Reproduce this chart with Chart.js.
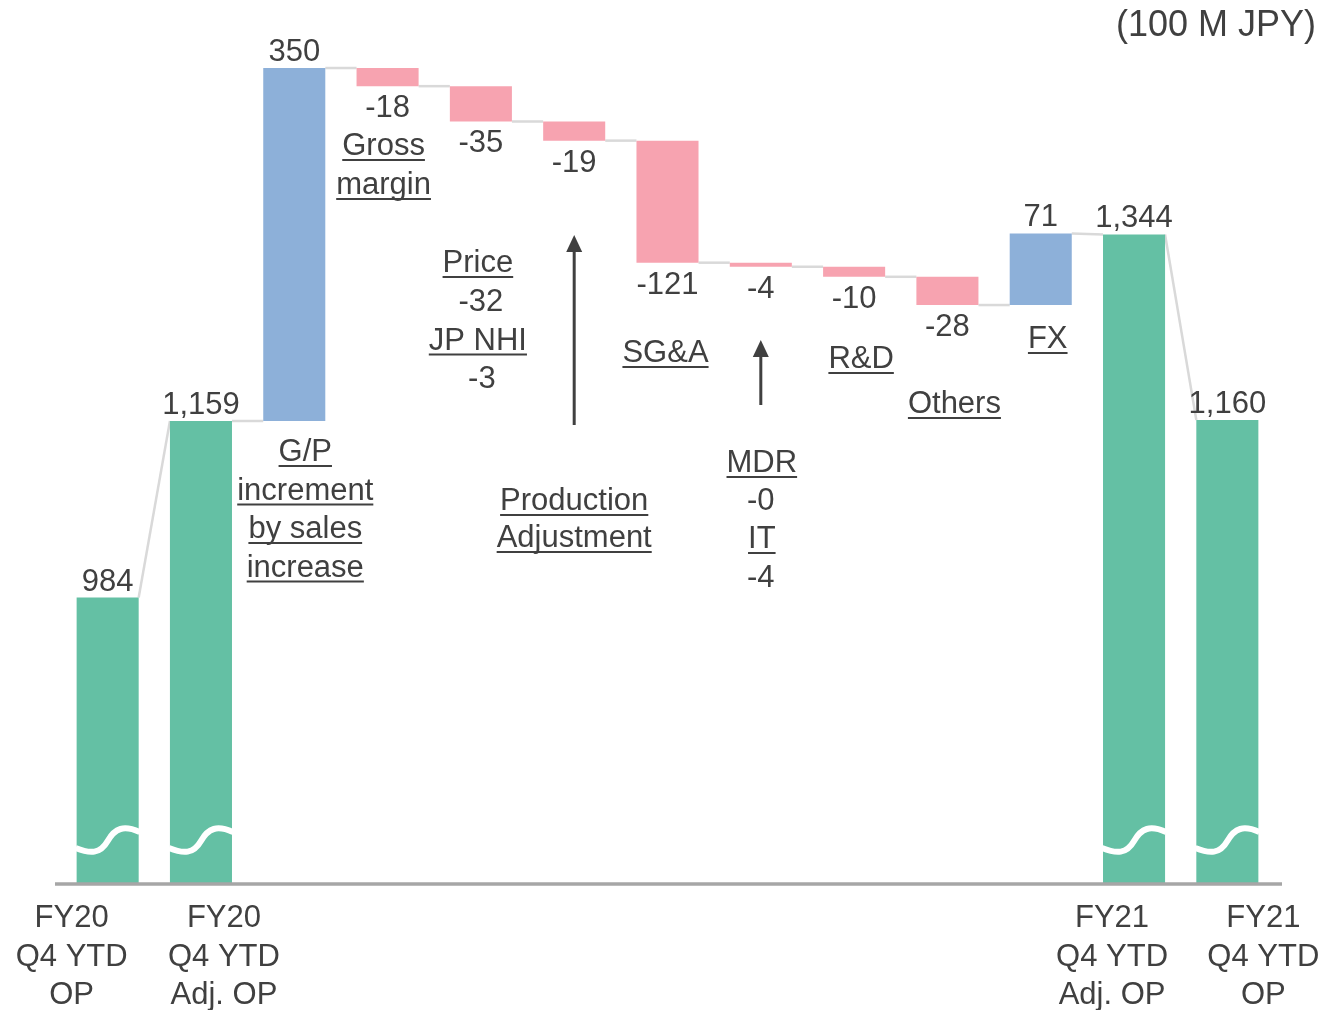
<!DOCTYPE html>
<html>
<head>
<meta charset="utf-8">
<script src="https://cdn.jsdelivr.net/npm/chart.js@4.4.1/dist/chart.umd.min.js"></script>
<style>
  html, body { margin: 0; padding: 0; background: #fff; }
  #wrap { width: 1325px; height: 1010px; }
</style>
</head>
<body>
<div id="wrap"><canvas id="bridge-chart"></canvas></div>
<script>
// Operating profit bridge, FY20 -> FY21 (100 M JPY)
const categories = [
  'FY20 Q4 YTD OP', 'FY20 Q4 YTD Adj. OP', 'G/P increment by sales increase',
  'Gross margin', 'Price / JP NHI', 'Production Adjustment', 'SG&A', 'MDR / IT',
  'R&D', 'Others', 'FX', 'FY21 Q4 YTD Adj. OP', 'FY21 Q4 YTD OP'
];
const amounts = [984, 1159, 350, -18, -35, -19, -121, -4, -10, -28, 71, 1344, 1160];
const isTotal = [true, true, false, false, false, false, false, false, false, false, false, true, true];
const valueLabels = ['984', '1,159', '350', '-18', '-35', '-19', '-121', '-4', '-10', '-28', '71', '1,344', '1,160'];
const footIndex = [0, 1, 11, 12];
const footLabels = [
  ['FY20', 'Q4 YTD', 'OP'],
  ['FY20', 'Q4 YTD', 'Adj. OP'],
  ['FY21', 'Q4 YTD', 'Adj. OP'],
  ['FY21', 'Q4 YTD', 'OP']
];
const axisMin = 700;   // axis is broken, bars start here
const axisMax = 1510;

const GREEN = '#64c0a4', BLUE = '#8db0d9', PINK = '#f7a3b0';
const TEXT = '#404040';
const FONT = '31px "Liberation Sans", Arial, sans-serif';

// floating bars [start, end]
const ranges = [];
const colors = [];
let running = 0;
amounts.forEach((v, i) => {
  if (isTotal[i]) {
    ranges.push([axisMin, v]);
    running = v;
    colors.push(GREEN);
  } else {
    ranges.push([running, running + v]);
    running += v;
    colors.push(v >= 0 ? BLUE : PINK);
  }
});

// explanatory notes next to the bars
const notes = [
  { t: 'G/P', i: 2, dx: 11, y: 461, u: true },
  { t: 'increment', i: 2, dx: 11, y: 499.5, u: true },
  { t: 'by sales', i: 2, dx: 11, y: 538, u: true },
  { t: 'increase', i: 2, dx: 11, y: 576.5, u: true },
  { t: 'Gross', i: 3, dx: -4, y: 155, u: true },
  { t: 'margin', i: 3, dx: -4, y: 194, u: true },
  { t: 'Price', i: 4, dx: -3, y: 272, u: true },
  { t: '-32', i: 4, dx: 0, y: 310.5, u: false },
  { t: 'JP NHI', i: 4, dx: -3, y: 349.5, u: true },
  { t: '-3', i: 4, dx: 1, y: 388, u: false },
  { t: 'Production', i: 5, dx: 0, y: 510, u: true },
  { t: 'Adjustment', i: 5, dx: 0, y: 547, u: true },
  { t: 'SG&A', i: 6, dx: -2, y: 362, u: true },
  { t: 'MDR', i: 7, dx: 1, y: 472, u: true },
  { t: '-0', i: 7, dx: 0, y: 510, u: false },
  { t: 'IT', i: 7, dx: 1, y: 548, u: true },
  { t: '-4', i: 7, dx: 0, y: 587, u: false },
  { t: 'R&D', i: 8, dx: 7, y: 368, u: true },
  { t: 'Others', i: 9, dx: 7, y: 413, u: true },
  { t: 'FX', i: 10, dx: 7, y: 348, u: true }
];
const arrows = [
  { i: 5, from: 425, to: 235 },
  { i: 7, from: 405, to: 340 }
];

// connectors between bars (drawn under the bars)
const connectorPlugin = {
  id: 'connectors',
  beforeDatasetsDraw(chart) {
    const ctx = chart.ctx;
    const bars = chart.getDatasetMeta(0).data;
    const y = chart.scales.y;
    ctx.save();
    ctx.strokeStyle = '#d9d9d9';
    ctx.lineWidth = 2.5;
    for (let i = 0; i < bars.length - 1; i++) {
      const a = bars[i], b = bars[i + 1];
      const endA = y.getPixelForValue(ranges[i][1]);
      const startB = isTotal[i + 1] ? y.getPixelForValue(ranges[i + 1][1]) : y.getPixelForValue(ranges[i + 1][0]);
      ctx.beginPath();
      ctx.moveTo(a.x + a.width / 2, endA);
      ctx.lineTo(b.x - b.width / 2, startB);
      ctx.stroke();
    }
    ctx.restore();
  }
};

function underlined(ctx, text, x, y, u) {
  ctx.fillText(text, x, y);
  if (u) {
    const w = ctx.measureText(text).width;
    ctx.fillRect(x - w / 2, y + 4, w, 2);
  }
}

const decorPlugin = {
  id: 'decor',
  afterDatasetsDraw(chart) {
    const ctx = chart.ctx;
    const area = chart.chartArea;
    const bars = chart.getDatasetMeta(0).data;
    const y = chart.scales.y;
    const xs = chart.scales.x;
    ctx.save();

    // wavy break marks on the total bars
    ctx.strokeStyle = '#ffffff';
    ctx.lineWidth = 6;
    ctx.lineCap = 'butt';
    bars.forEach((bar, i) => {
      if (!isTotal[i]) return;
      const L = bar.x - bar.width / 2, w = bar.width, b = area.bottom;
      ctx.beginPath();
      ctx.moveTo(L - 1, b - 36);
      ctx.bezierCurveTo(L + 0.22 * w, b - 30, L + 0.38 * w, b - 30, L + 0.5 * w, b - 43);
      ctx.bezierCurveTo(L + 0.62 * w, b - 56, L + 0.76 * w, b - 59, L + w + 1, b - 52);
      ctx.stroke();
    });

    // axis line
    ctx.strokeStyle = '#a6a6a6';
    ctx.lineWidth = 3.5;
    ctx.beginPath();
    ctx.moveTo(area.left - 6, area.bottom);
    ctx.lineTo(area.right + 8, area.bottom);
    ctx.stroke();

    ctx.fillStyle = TEXT;
    ctx.font = FONT;
    ctx.textAlign = 'center';
    ctx.textBaseline = 'alphabetic';

    // value labels
    bars.forEach((bar, i) => {
      const hi = y.getPixelForValue(Math.max(ranges[i][0], ranges[i][1]));
      const lo = y.getPixelForValue(Math.min(ranges[i][0], ranges[i][1]));
      if (amounts[i] >= 0) ctx.fillText(valueLabels[i], bar.x, hi - 7);
      else ctx.fillText(valueLabels[i], bar.x, lo + 31);
    });

    // category labels under the axis
    const footShift = [-36, 23, -22, 36];
    footIndex.forEach((idx, k) => {
      const cx = xs.getPixelForValue(idx) + footShift[k];
      footLabels[k].forEach((line, j) => ctx.fillText(line, cx, area.bottom + 43 + j * 38.5));
    });

    // notes
    notes.forEach(n => underlined(ctx, n.t, xs.getPixelForValue(n.i) + n.dx, n.y, n.u));

    // arrows
    ctx.strokeStyle = TEXT;
    ctx.lineWidth = 3;
    arrows.forEach(a => {
      const ax = xs.getPixelForValue(a.i);
      ctx.beginPath();
      ctx.moveTo(ax, a.from);
      ctx.lineTo(ax, a.to + 14);
      ctx.stroke();
      ctx.beginPath();
      ctx.moveTo(ax, a.to);
      ctx.lineTo(ax - 8, a.to + 17);
      ctx.lineTo(ax + 8, a.to + 17);
      ctx.closePath();
      ctx.fill();
    });

    // unit
    ctx.textAlign = 'right';
    ctx.font = '36px "Liberation Sans", Arial, sans-serif';
    ctx.fillText('(100 M JPY)', 1316, 36);
    ctx.restore();
  }
};

const ctx = document.getElementById('bridge-chart').getContext('2d');
const bridgeChart = new Chart(ctx, {
  type: 'bar',
  data: {
    labels: categories,
    datasets: [{
      data: ranges,
      backgroundColor: colors,
      borderWidth: 0,
      barPercentage: 0.665,
      categoryPercentage: 1
    }]
  },
  options: {
    responsive: true,
    maintainAspectRatio: false,
    animation: false,
    layout: { padding: { top: 67, bottom: 126, left: 61, right: 51 } },
    plugins: { legend: { display: false }, tooltip: { enabled: false } },
    scales: {
      x: { display: false },
      y: { display: false, min: axisMin, max: axisMax }
    }
  },
  plugins: [connectorPlugin, decorPlugin]
});
</script>
</body>
</html>
